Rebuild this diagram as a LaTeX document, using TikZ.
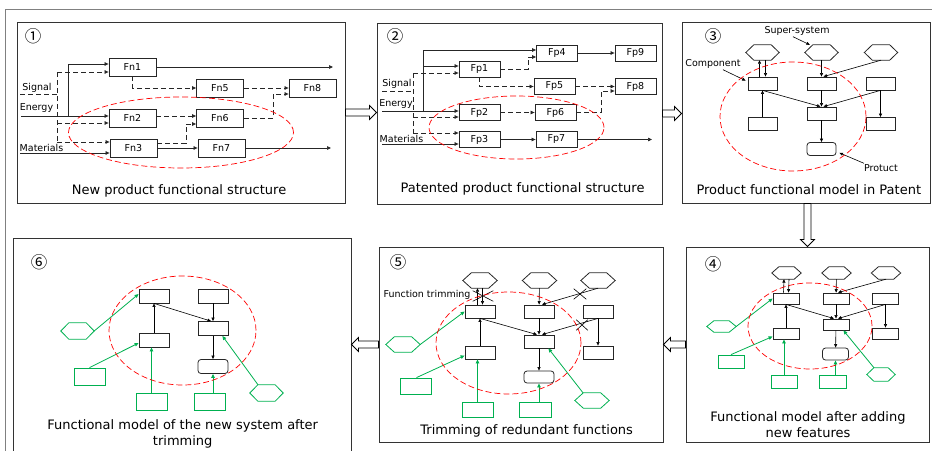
\documentclass[tikz,border=0pt]{standalone}
\usepackage{fontspec}
\setmainfont{DejaVu Sans}
\newfontfamily\cjkfont{Noto Sans CJK JP}
\usetikzlibrary{arrows.meta,calc,shapes.misc}
\definecolor{grn}{RGB}{0,176,80}
\newcommand\ftitle{\fontsize{13}{16}\selectfont}
\newcommand\fsm{\fontsize{9.5}{11}\selectfont}
\newcommand\fcirc{\cjkfont\fontsize{16.5}{16.5}\selectfont}
\newcommand\hexnode[7]{%
  \node[hexbox, minimum width=#4pt, minimum height=#5pt] (#1) at (#2,#3) {};
  \draw[#7] (#1.west) -- ([xshift=#6pt]#1.north west) -- ([xshift=-#6pt]#1.north east) -- (#1.east) -- ([xshift=-#6pt]#1.south east) -- ([xshift=#6pt]#1.south west) -- cycle;}
\tikzset{
  panel/.style={draw=black!80, line width=0.9pt, inner sep=0},
  fbox/.style={draw=black!85, line width=0.8pt, inner sep=0, font=\fsm},
  fnb/.style={fbox, minimum width=47pt, minimum height=18pt},
  fpb/.style={fbox, minimum width=41pt, minimum height=16pt},
  cbox/.style={draw=black!85, line width=0.8pt, inner sep=0},
  gbox/.style={draw=grn, line width=0.8pt, inner sep=0},
  hexbox/.style={inner sep=0, draw=none},
  hexd/.style={draw=black!85, line width=0.8pt},
  hexg/.style={draw=grn, line width=0.8pt},
  sol/.style={line width=0.7pt, black!85},
  dsh/.style={sol, dash pattern=on 5pt off 3pt},
  dar/.style={-{Triangle[length=4pt,width=3.5pt]}},
  bla/.style={line width=0.6pt, black, -{Triangle[length=3.5pt,width=3pt]}},
  gla/.style={line width=0.8pt, grn, -{Triangle[length=4pt,width=3.5pt]}},
  redell/.style={draw=red, line width=0.7pt, dash pattern=on 6pt off 3pt},
  lbl/.style={font=\fsm, inner sep=0},
  ttl/.style={font=\ftitle, align=center, inner sep=0},
  circ/.style={font=\fcirc, inner sep=0},
  blk/.style={draw=black, line width=0.8pt, fill=white},
  framel/.style={draw=black!50, line width=1.5pt},
  xmark/.style={cross out, draw=black, line width=0.6pt, inner sep=0},
  blockR/.style={to path={let \p1=(\tikztostart), \p2=(\tikztotarget) in (\x1,\y1+3.5pt) -- (\x2-7pt,\y1+3.5pt) -- (\x2-7pt,\y1+7pt) -- (\x2,\y1) -- (\x2-7pt,\y1-7pt) -- (\x2-7pt,\y1-3.5pt) -- (\x1,\y1-3.5pt) -- cycle}},
  blockL/.style={to path={let \p1=(\tikztostart), \p2=(\tikztotarget) in (\x1,\y1+3.5pt) -- (\x2+7pt,\y1+3.5pt) -- (\x2+7pt,\y1+7pt) -- (\x2,\y1) -- (\x2+7pt,\y1-7pt) -- (\x2+7pt,\y1-3.5pt) -- (\x1,\y1-3.5pt) -- cycle}},
  blockD/.style={to path={let \p1=(\tikztostart), \p2=(\tikztotarget) in (\x1-3.5pt,\y1) -- (\x1-3.5pt,\y2+7pt) -- (\x1-7pt,\y2+7pt) -- (\x1,\y2) -- (\x1+7pt,\y2+7pt) -- (\x1+3.5pt,\y2+7pt) -- (\x1+3.5pt,\y1) -- cycle}}
}
\begin{document}
\begin{tikzpicture}[x=1pt,y=-1pt]
\useasboundingbox (0,0) rectangle (932,450);
\clip (0,0) rectangle (932,450);
\draw[framel] (5.5,460) -- (5.5,9.5) -- (940,9.5);

% ---------- Panel 1
\node[panel, minimum width=328pt, minimum height=181pt] (p1) at (181,112.5) {};
\node[circ] (c1) at (33,36) {①};
\node[fnb] (Fn1) at (132.5,67) {Fn1};
\node[fnb] (Fn5) at (220,88) {Fn5};
\node[fnb] (Fn8) at (312.5,88) {Fn8};
\node[fnb] (Fn2) at (132.5,118) {Fn2};
\node[fnb] (Fn6) at (220,118) {Fn6};
\node[fnb] (Fn3) at (133.5,148) {Fn3};
\node[fnb] (Fn7) at (221.5,148) {Fn7};
\node[lbl] (sig1) at (37,88) {Signal};
\node[lbl] (en1) at (36.5,108) {Energy};
\node[lbl] (mat1) at (41.5,148) {Materials};
\coordinate (a1s0) at (20,94);
\coordinate (a1sT) at (57,72);
\coordinate (a1sM) at (57,123);
\coordinate (a1sB) at (57,142);
\coordinate (a1e0) at (21,116);
\coordinate (a1eB) at (68,116);
\coordinate (a1eT) at (68,64);
\coordinate (a1m0) at (20,153);
\coordinate (a1o1) at (333,67);
\coordinate (a1o7) at (331,148);
\coordinate (a1k68) at (273,94);
\coordinate (a1k36) at (186,124);
\draw[dsh] (a1s0) -- (a1s0 -| a1sT);
\draw[dsh] (a1sT) -- (a1sB);
\draw[dsh,dar] (a1sT) -- (a1sT -| Fn1.west);
\draw[dsh,dar] (a1sM) -- (a1sM -| Fn2.west);
\draw[dsh,dar] (a1sB) -- (a1sB -| Fn3.west);
\draw[sol,dar] (a1e0) -- (a1e0 -| Fn2.west);
\draw[sol] (a1eB) -- (a1eT);
\draw[sol,dar] (a1eT) -- (a1eT -| Fn1.west);
\draw[sol,dar] (a1m0) -- (a1m0 -| Fn3.west);
\draw[sol,dar] (Fn1) -- (a1o1);
\draw[dsh,dar] (Fn1.south) |- (Fn5.west);
\draw[dsh,dar] (Fn5) -- (Fn8);
\draw[dsh,dar] (Fn6.east) -| (a1k68) -- (a1k68 -| Fn8.west);
\draw[dsh,dar] ([yshift=2pt]Fn2.east) -- ([yshift=2pt]Fn6.west);
\draw[dsh,dar] ([yshift=5pt]Fn3.east) -| (a1k36) -- (a1k36 -| Fn6.west);
\draw[sol,dar] (Fn3) -- (Fn7);
\draw[sol,dar] (Fn7) -- (a1o7);
\draw[redell] (181,132.5) ellipse [x radius=112.5pt, y radius=35.5pt];
\node[ttl] (t1) at (179,191) {New product functional structure};

% ---------- Panel 2
\node[panel, minimum width=285pt, minimum height=181pt] (p2) at (519.5,113.5) {};
\node[circ] (c2) at (395,36) {②};
\node[fpb] (Fp4) at (557,53) {Fp4};
\node[fpb] (Fp9) at (635.5,53) {Fp9};
\node[fpb] (Fp1) at (479.5,69) {Fp1};
\node[fpb] (Fp5) at (554.5,86.5) {Fp5};
\node[fpb] (Fp8) at (635.5,86.5) {Fp8};
\node[fpb] (Fp2) at (479.5,112.5) {Fp2};
\node[fpb] (Fp6) at (555.5,112.5) {Fp6};
\node[fpb] (Fp3) at (479.5,139.5) {Fp3};
\node[fpb] (Fp7) at (556.5,139.5) {Fp7};
\node[lbl] (sig2) at (397,84) {Signal};
\node[lbl] (en2) at (396,104) {Energy};
\node[lbl] (mat2) at (401.5,139) {Materials};
\coordinate (a2s0) at (382,91);
\coordinate (a2sT) at (413,73);
\coordinate (a2sM) at (413,117);
\coordinate (a2sB) at (413,133);
\coordinate (a2e0) at (382,111);
\coordinate (a2eB) at (423,111);
\coordinate (a2eT) at (423,50);
\coordinate (a2eM) at (423,66);
\coordinate (a2m0) at (382,144);
\coordinate (a2k14) at (528,57);
\coordinate (a2k68) at (601,91);
\coordinate (a2o7) at (652,139.5);
\draw[dsh] (a2s0) -- (a2s0 -| a2sT);
\draw[dsh] (a2sT) -- (a2sB);
\draw[dsh,dar] (a2sT) -- (a2sT -| Fp1.west);
\draw[dsh,dar] (a2sM) -- (a2sM -| Fp2.west);
\draw[dsh,dar] (a2sB) -- (a2sB -| Fp3.west);
\draw[sol,dar] (a2e0) -- (a2e0 -| Fp2.west);
\draw[sol] (a2eB) -- (a2eT);
\draw[sol,dar] (a2eT) -- (a2eT -| Fp4.west);
\draw[sol,dar] (a2eM) -- (a2eM -| Fp1.west);
\draw[sol,dar] (a2m0) -- (a2m0 -| Fp3.west);
\draw[dsh,dar] (Fp1.east) -| (a2k14) -- (a2k14 -| Fp4.west);
\draw[sol,dar] (Fp4) -- (Fp9);
\draw[dsh,dar] (Fp1.south) |- (Fp5.west);
\draw[dsh,dar] (Fp5) -- (Fp8);
\draw[dsh,dar] (Fp6.east) -| (a2k68) -- (a2k68 -| Fp8.west);
\draw[dsh,dar] (Fp2) -- (Fp6);
\draw[sol,dar] (Fp3) -- (Fp7);
\draw[sol,dar] (Fp7) -- (a2o7);
\draw[redell] (516.5,127.5) ellipse [x radius=87.5pt, y radius=31.5pt];
\node[ttl] (t2) at (522.5,189) {Patented product functional structure};

% ---------- Panel 3
\node[panel, minimum width=248.5pt, minimum height=181pt] (p3) at (806.25,112.5) {};
\node[circ] (c3) at (713,36) {③};
\hexnode{h3a}{762.5}{52.5}{33}{15}{8}{hexd}
\hexnode{h3b}{821.5}{52.5}{33}{15}{8}{hexd}
\hexnode{h3c}{881}{52.5}{33}{15}{8}{hexd}
\begin{scope}[every node/.append style={minimum width=29pt, minimum height=13pt}]
\node[cbox] (r3a) at (762.5,83.5) {};
\node[cbox] (r3b) at (821.5,83.5) {};
\node[cbox] (r3c) at (880.5,83.5) {};
\node[cbox] (r3d) at (821.5,113.5) {};
\node[cbox] (r3e) at (762.5,124) {};
\node[cbox] (r3f) at (880.5,124) {};
\node[cbox, rounded corners=3pt] (r3g) at (821.5,149) {};
\end{scope}
\draw[bla] ([xshift=-3pt]r3a.north) -- ([xshift=-3pt]h3a.south);
\draw[bla] ([xshift=3pt]h3a.south) -- ([xshift=3pt]r3a.north);
\draw[bla] (h3b) -- (r3b);
\draw[bla] (h3c.south) -- ([xshift=2pt]r3b.north);
\draw[bla] (r3a.south) -- ([xshift=-1pt]r3d.north);
\draw[bla] (r3b) -- (r3d);
\draw[bla] (r3c.south) -- ([xshift=2pt]r3d.north);
\draw[bla] (r3c) -- (r3f);
\draw[bla] (r3e) -- (r3a);
\draw[bla] (r3d) -- (r3g);
\node[lbl] (ss3) at (797,31) {Super-system};
\node[lbl] (cp3) at (713,64) {Component};
\node[lbl] (pr3) at (881,168) {Protuct};
\draw[bla] ([xshift=-4pt,yshift=-1pt]ss3.south) -- ([xshift=5pt]h3b.north west);
\draw[bla] ([xshift=10pt,yshift=-1pt]cp3.south) -- ([xshift=-2pt,yshift=-4pt]r3a.north west);
\draw[bla] ([yshift=1pt]pr3.north west) -- ([xshift=3pt,yshift=3pt]r3g.south east);
\draw[redell] (793,116.5) ellipse [x radius=73pt, y radius=54.5pt];
\node[ttl] (t3) at (808.8,190) {Product functional model in Patent};

% ---------- Panel 4
\node[panel, minimum width=243pt, minimum height=195pt] (p4) at (807.5,344.5) {};
\node[circ] (c4) at (713,264) {④};
\hexnode{h4a}{786.5}{273}{29}{12}{7}{hexd}
\hexnode{h4b}{836.5}{273}{29}{12}{7}{hexd}
\hexnode{h4c}{886}{273}{29}{12}{7}{hexd}
\begin{scope}[every node/.append style={minimum width=26pt, minimum height=11pt}]
\node[cbox] (r4a) at (786,298.5) {};
\node[cbox] (r4b) at (836,298.5) {};
\node[cbox] (r4c) at (885.5,298.5) {};
\node[cbox] (r4d) at (836,324.5) {};
\node[cbox] (r4e) at (786,333.5) {};
\node[cbox] (r4f) at (885.5,333.5) {};
\node[cbox, rounded corners=3pt, minimum height=12pt] (r4g) at (835.5,354) {};
\end{scope}
\hexnode{g4a}{721.5}{326.5}{29}{11}{7}{hexg}
\hexnode{g4e}{881}{374.5}{28}{13}{7}{hexg}
\begin{scope}[every node/.append style={minimum width=26pt, minimum height=13pt}]
\node[gbox] (g4b) at (731,361.5) {};
\node[gbox] (g4c) at (784,381.5) {};
\node[gbox, minimum width=27pt] (g4d) at (832.5,381.5) {};
\end{scope}
\draw[bla] ([xshift=-2.5pt]r4a.north) -- ([xshift=-2.5pt]h4a.south);
\draw[bla] ([xshift=2.5pt]h4a.south) -- ([xshift=2.5pt]r4a.north);
\draw[bla] (h4b) -- (r4b);
\draw[bla] (h4c.south) -- ([xshift=2pt]r4b.north);
\draw[bla] (r4a.south) -- ([xshift=-2pt]r4d.north);
\draw[bla] (r4b) -- (r4d);
\draw[bla] (r4c.south) -- ([xshift=2pt]r4d.north);
\draw[bla] (r4c) -- (r4f);
\draw[bla] (r4e) -- (r4a);
\draw[bla] (r4d) -- (r4g);
\draw[gla] (g4a.east) -- (r4a.west);
\draw[gla] (g4b.north) -- ([yshift=-3pt]r4e.west);
\draw[gla] (g4c.north) -- (g4c.north |- r4e.south);
\draw[gla] (g4d.north -| r4g.south) -- (r4g.south);
\draw[gla] ([xshift=-7pt]g4e.north) -- ([xshift=-6pt]r4d.south east);
\draw[redell] (810,326) ellipse [x radius=62pt, y radius=43pt];
\node[ttl] (t4) at (808,425) {Functional model after adding\\new features};

% ---------- Panel 5
\node[panel, minimum width=284pt, minimum height=195pt] (p5) at (521,344.5) {};
\node[circ] (c5) at (398,262) {⑤};
\hexnode{h5a}{480}{280.5}{34}{15}{8.5}{hexd}
\hexnode{h5b}{539.5}{280.5}{34}{15}{8.5}{hexd}
\hexnode{h5c}{598}{280.5}{34}{15}{8.5}{hexd}
\begin{scope}[every node/.append style={minimum width=30pt, minimum height=13pt}]
\node[cbox] (r5a) at (480,311.5) {};
\node[cbox] (r5b) at (539,311.5) {};
\node[cbox] (r5c) at (598,311.5) {};
\node[cbox] (r5d) at (539,341.5) {};
\node[cbox] (r5e) at (480,352.5) {};
\node[cbox] (r5f) at (598,352.5) {};
\node[cbox, rounded corners=3pt, minimum height=12pt] (r5g) at (539,377) {};
\end{scope}
\hexnode{g5a}{403}{344.5}{34}{15}{8.5}{hexg}
\hexnode{g5e}{592}{400.5}{34}{15}{8.5}{hexg}
\begin{scope}[every node/.append style={minimum width=31pt, minimum height=15pt}]
\node[gbox, minimum height=16pt] (g5b) at (415.5,386) {};
\node[gbox] (g5c) at (477.5,409.5) {};
\node[gbox, minimum width=32pt] (g5d) at (535,409.5) {};
\end{scope}
\draw[bla] ([xshift=-2.5pt]r5a.north) -- ([xshift=-2.5pt]h5a.south);
\draw[bla] ([xshift=2.5pt]h5a.south) -- ([xshift=2.5pt]r5a.north);
\draw[bla] (h5b) -- (r5b);
\draw[bla] (h5c.south) -- ([xshift=3pt]r5b.north);
\draw[bla] (r5a.south) -- ([xshift=-2pt]r5d.north);
\draw[bla] (r5b) -- (r5d);
\draw[bla] (r5c.south) -- ([xshift=3pt]r5d.north);
\draw[bla] (r5c) -- (r5f);
\draw[bla] (r5e) -- (r5a);
\draw[bla] (r5d) -- (r5g);
\draw[gla] (g5a.east) -- (r5a.west);
\draw[gla] ([xshift=1pt]g5b.north) -- ([yshift=-3pt]r5e.west);
\draw[gla] (g5c.north) -- (g5c.north |- r5e.south);
\draw[gla] (g5d.north -| r5g.south) -- (r5g.south);
\draw[gla] ([xshift=-9pt]g5e.north) -- ([xshift=-6pt]r5d.south east);
\node[xmark, minimum width=20pt, minimum height=10pt] (x5a) at (483,296) {};
\node[xmark, minimum width=12pt, minimum height=10pt] (x5b) at (580,294) {};
\node[xmark, minimum width=11pt, minimum height=10pt] (x5c) at (582,325) {};
\node[lbl] (ft5) at (427,295) {Function trimming};
\draw[redell] (508.5,343) ellipse [x radius=72.5pt, y radius=51pt];
\node[ttl] (t5) at (526.7,431) {Trimming of redundant functions};

% ---------- Panel 6
\node[panel, minimum width=338pt, minimum height=217pt] (p6) at (182,346.5) {};
\node[circ] (c6) at (39,262) {⑥};
\begin{scope}[every node/.append style={minimum width=30pt, minimum height=14pt}]
\node[cbox] (r6a) at (154,296) {};
\node[cbox] (r6b) at (213,296) {};
\node[cbox] (r6d) at (213,328.5) {};
\node[cbox] (r6e) at (154,340) {};
\node[cbox, rounded corners=3pt] (r6g) at (213,366.5) {};
\end{scope}
\hexnode{g6a}{77.5}{331}{33}{16}{8}{hexg}
\hexnode{g6e}{266.5}{393}{33}{16}{8}{hexg}
\begin{scope}[every node/.append style={minimum width=31pt, minimum height=17pt}]
\node[gbox] (g6b) at (89.5,376.5) {};
\node[gbox] (g6c) at (151.5,401.5) {};
\node[gbox] (g6d) at (209.5,401.5) {};
\end{scope}
\draw[bla] (r6e) -- (r6a);
\draw[bla] (r6a.south) -- ([xshift=-2pt]r6d.north);
\draw[bla] (r6b) -- (r6d);
\draw[bla] (r6d) -- (r6g);
\draw[gla] (g6a.east) -- ([yshift=2pt]r6a.west);
\draw[gla] (g6b.north) -- ([yshift=-3pt]r6e.west);
\draw[gla] (g6c.north) -- (g6c.north |- r6e.south);
\draw[gla] (g6d.north -| r6g.south) -- (r6g.south);
\draw[gla] ([xshift=-8.5pt]g6e.north) -- ([xshift=-6pt]r6d.south east);
\draw[redell] (182.5,330.5) ellipse [x radius=73.5pt, y radius=54.5pt];
\node[ttl] (t6) at (182.7,434) {Functional model of the new system after\\trimming};

% ---------- block arrows between panels
\draw[blk, blockR] (p1.east) to (p2.west);
\draw[blk, blockR] (p2.east) to (p3.west);
\draw[blk, blockD] (p3.south -| p4.north) to (p4.north);
\draw[blk, blockL] (p4.west) to (p5.east);
\draw[blk, blockL] (p5.west) to (p6.east);
\end{tikzpicture}
\end{document}
